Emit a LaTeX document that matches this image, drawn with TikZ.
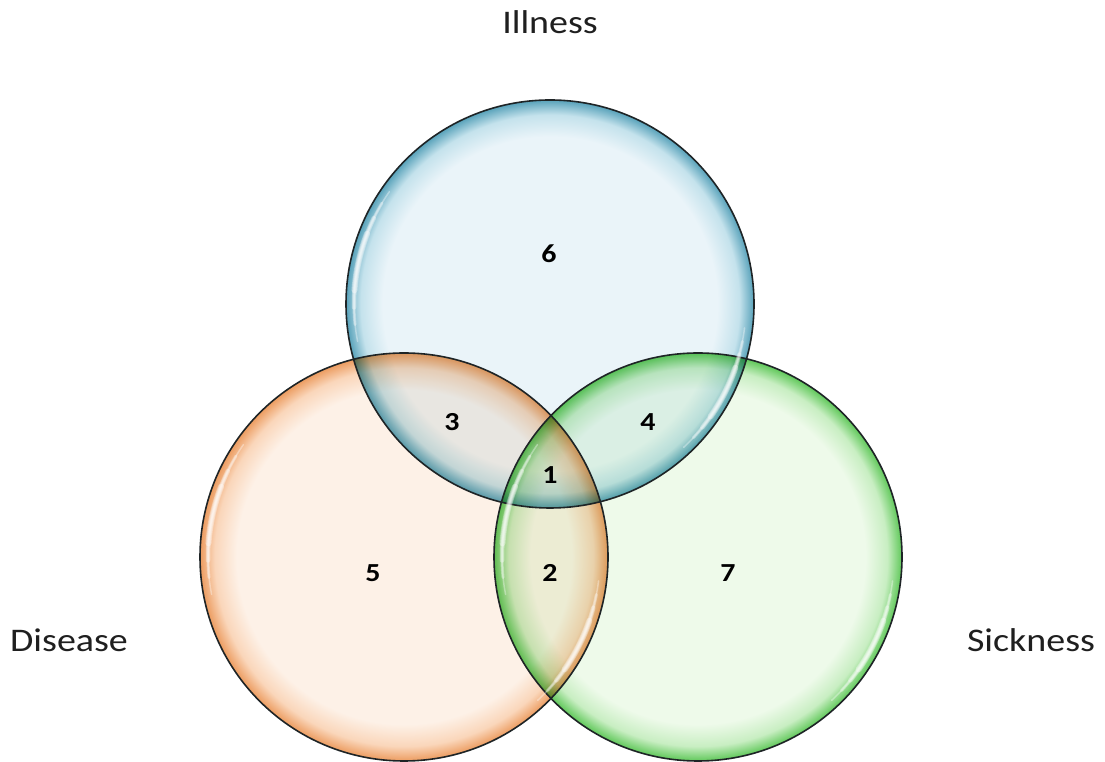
\documentclass[tikz,border=0pt]{standalone}
\usepackage{fontspec}
\newfontfamily\lblfont[FakeStretch=1.15]{Carlito}
\newfontfamily\numfont[FakeStretch=1.15]{Carlito}

% bubble colours: inner fill, soft band, rim
\definecolor{bIn}{RGB}{234,244,249}
\definecolor{bMid}{RGB}{196,226,236}
\definecolor{bRim}{RGB}{88,162,186}
\definecolor{oIn}{RGB}{253,241,231}
\definecolor{oMid}{RGB}{250,214,186}
\definecolor{oRim}{RGB}{236,156,96}
\definecolor{gIn}{RGB}{238,250,234}
\definecolor{gMid}{RGB}{200,238,194}
\definecolor{gRim}{RGB}{96,200,90}
\definecolor{edge}{RGB}{30,36,38}

\pgfdeclareradialshading{bubbleB}{\pgfpoint{0bp}{0bp}}{color(0bp)=(bIn); color(20.5bp)=(bIn); color(23.2bp)=(bMid); color(25bp)=(bRim); color(50bp)=(bRim)}
\pgfdeclareradialshading{bubbleO}{\pgfpoint{0bp}{0bp}}{color(0bp)=(oIn); color(20.5bp)=(oIn); color(23.2bp)=(oMid); color(25bp)=(oRim); color(50bp)=(oRim)}
\pgfdeclareradialshading{bubbleG}{\pgfpoint{0bp}{0bp}}{color(0bp)=(gIn); color(20.5bp)=(gIn); color(23.2bp)=(gMid); color(25bp)=(gRim); color(50bp)=(gRim)}

\tikzset{
  setlabel/.style={font=\lblfont\fontsize{33}{36}\selectfont, text=black!88, inner sep=0pt},
  regionnum/.style={font=\numfont\bfseries\fontsize{26}{28}\selectfont, text=black, inner sep=0pt},
  rimline/.style={draw=edge, line width=1.6pt},
  gloss/.style={draw=white, line cap=round, opacity=0.35},
}

% soft white streaks on the inner rim, left and lower right
\newcommand{\glossarcs}[1]{%
  \foreach \a/\b/\w in {145/191/1.5, 149/186/3, 154/181/4.5, 159/176/6}
    \draw[gloss, line width=\w pt] (#1) ++(\a:196pt) arc[start angle=\a, end angle=\b, radius=196pt];
  \foreach \a/\b/\w in {-7/-47/1.5, -11/-43/3, -15/-39/4.5, -19/-35/6}
    \draw[gloss, line width=\w pt] (#1) ++(\a:196pt) arc[start angle=\a, end angle=\b, radius=196pt];
}

\begin{document}
\begin{tikzpicture}[x=1pt, y=1pt]
  \useasboundingbox (0,0) rectangle (1105,762);

  \coordinate (ill) at (550,458);
  \coordinate (dis) at (404,205);
  \coordinate (sick) at (698,205);

  % translucent discs, multiplied where they overlap
  \begin{scope}[blend group=multiply]
    \shade[shading=bubbleO] (dis) circle[radius=204pt];
    \shade[shading=bubbleG] (sick) circle[radius=204pt];
    \shade[shading=bubbleB] (ill) circle[radius=204pt];
  \end{scope}

  % outlines
  \draw[rimline] (dis) circle[radius=204pt];
  \draw[rimline] (sick) circle[radius=204pt];
  \draw[rimline] (ill) circle[radius=204pt];

  % glossy highlights
  \glossarcs{dis}
  \glossarcs{sick}
  \glossarcs{ill}

  % set names
  \node[setlabel] (tIll) at (550,740) {Illness};
  \node[setlabel] (tDis) at (69,122) {Disease};
  \node[setlabel] (tSick) at (1031,122) {Sickness};

  % region numbers
  \node[regionnum] (r6) at (549,508) {6};
  \node[regionnum] (r3) at (452,340) {3};
  \node[regionnum] (r4) at (648,340) {4};
  \node[regionnum] (r1) at (550,287) {1};
  \node[regionnum] (r5) at (373,189) {5};
  \node[regionnum] (r2) at (550,189) {2};
  \node[regionnum] (r7) at (728,189) {7};
\end{tikzpicture}
\end{document}
